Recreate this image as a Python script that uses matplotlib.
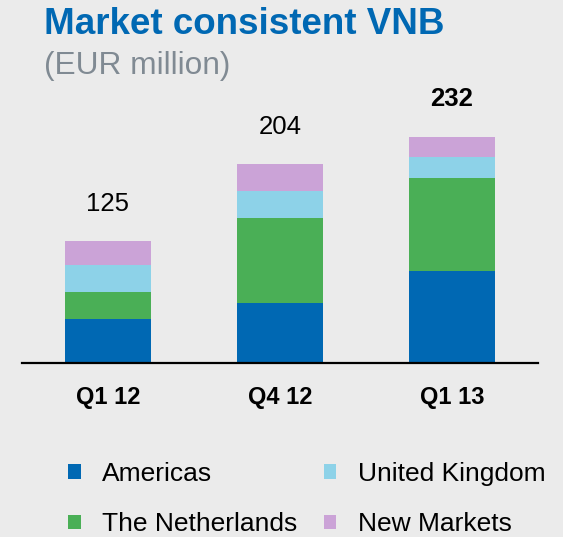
import matplotlib
matplotlib.use("Agg")
import matplotlib.pyplot as plt
import numpy as np

quarters = ["Q1 12", "Q4 12", "Q1 13"]
series = ["Americas", "The Netherlands", "United Kingdom", "New Markets"]
americas = [46, 62, 95]
netherlands = [27, 87, 95]
united_kingdom = [28, 28, 21]
new_markets = [24, 27, 21]
totals = [125, 204, 232]

colors = ["#0068b3", "#4aaf56", "#8dd2e8", "#cba3d7"]
bg = "#ebebeb"

plt.rcParams["font.family"] = ["Liberation Sans", "DejaVu Sans"]

fig = plt.figure(figsize=(5.63, 5.37), dpi=100, facecolor=bg)
ax = fig.add_axes([0.039, 0.3231, 0.9165, 0.5276], facecolor=bg)

x = np.arange(len(quarters))
bottom = np.zeros(len(quarters))
handles = []
for vals, name, c in zip([americas, netherlands, united_kingdom, new_markets], series, colors):
    b = ax.bar(x, vals, width=0.5, bottom=bottom, color=c, label=name, linewidth=0)
    handles.append(b)
    bottom += np.array(vals)

# totals above the stacks, last one bold
for i, t in enumerate(totals):
    ax.annotate(str(t), (x[i], t), xytext=(0, 22), textcoords="offset points",
                ha="center", va="baseline", fontsize=18.5,
                fontweight="bold" if i == len(totals) - 1 else "normal")

ax.set_xlim(-0.5, 2.5)
ax.set_ylim(0, 290)
ax.set_xticks(x)
ax.set_xticklabels(quarters, fontsize=17, fontweight="bold")
ax.tick_params(axis="x", length=0, pad=16)
ax.set_yticks([])
for s in ["left", "right", "top"]:
    ax.spines[s].set_visible(False)
ax.spines["bottom"].set_linewidth(1.6)
ax.spines["bottom"].set_color("black")

fig.text(0.078, 0.937, "Market consistent VNB", fontsize=26.5, fontweight="bold",
         color="#0068b3", va="baseline")
fig.text(0.078, 0.862, "(EUR million)", fontsize=22.8, color="#808a93", va="baseline")

fig.legend(handles=handles, labels=series, ncol=2, loc="upper left",
           bbox_to_anchor=(0.121, 0.14), frameon=False, fontsize=19,
           handlelength=0.47, handleheight=0.47, handletextpad=0.83,
           columnspacing=1.0, labelspacing=1.0, borderpad=0, borderaxespad=0)

fig.savefig("out.png", dpi=100, facecolor=bg)
